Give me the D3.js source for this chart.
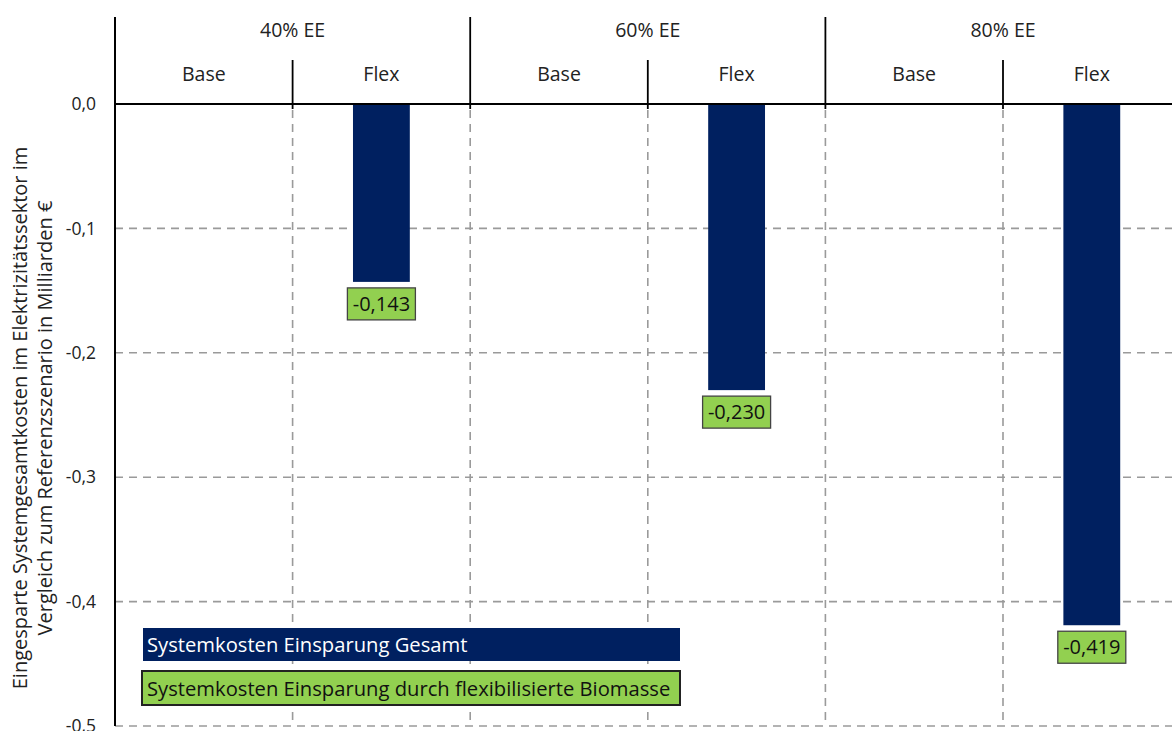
<!DOCTYPE html>
<html>
<head>
<meta charset="utf-8">
<script src="https://cdn.jsdelivr.net/npm/d3@7"></script>
<style>
  html, body { margin: 0; padding: 0; background: #fff; }
  svg { display: block; font-family: "Open Sans", Lato, sans-serif; }
</style>
</head>
<body>
<svg id="chart" width="1172" height="731"></svg>
<script>
// Scenario groups and variants
const groups = ["40% EE", "60% EE", "80% EE"];
const variants = ["Base", "Flex"];
// Savings in billion € per scenario/variant (null = no bar)
const values40 = [null, -0.143];
const values60 = [null, -0.230];
const values80 = [null, -0.419];
const yTicks = [0, -0.1, -0.2, -0.3, -0.4, -0.5];
const legendLabels = ["Systemkosten Einsparung Gesamt", "Systemkosten Einsparung durch flexibilisierte Biomasse"];

const navy = "#002060";
const green = "#92D050";

const rows = [];
[values40, values60, values80].forEach((vals, gi) => {
  vals.forEach((v, vi) => rows.push({ group: groups[gi], variant: variants[vi], key: groups[gi] + "|" + variants[vi], value: v }));
});

const svg = d3.select("#chart");
const plotL = 115, plotR = 1180.6, plotT = 104, plotB = 726;

const x = d3.scaleBand().domain(rows.map(d => d.key)).range([plotL, plotR]);
const y = d3.scaleLinear().domain([0, -0.5]).range([plotT, plotB]);
const fmt = v => d3.format(".1f")(v).replace(".", ",").replace("−", "-");
const fmt3 = v => d3.format(".3f")(v).replace(".", ",").replace("−", "-");

// Horizontal dashed gridlines
svg.append("g").selectAll("line").data(yTicks.slice(1)).join("line")
  .attr("x1", plotL).attr("x2", 1172)
  .attr("y1", d => y(d)).attr("y2", d => y(d))
  .attr("stroke", "#9a9a9a").attr("stroke-width", 1.6).attr("stroke-dasharray", "8,6");

// Vertical dashed gridlines at category boundaries
const bounds = rows.slice(1).map(d => x(d.key));
svg.append("g").selectAll("line").data(bounds).join("line")
  .attr("x1", d => d).attr("x2", d => d)
  .attr("y1", plotT + 6).attr("y2", plotB)
  .attr("stroke", "#9a9a9a").attr("stroke-width", 1.6).attr("stroke-dasharray", "8,6");

// Bars
svg.append("g").selectAll("rect").data(rows.filter(d => d.value !== null)).join("rect")
  .attr("x", d => x(d.key) + x.bandwidth() * 0.34)
  .attr("width", x.bandwidth() * 0.32)
  .attr("y", y(0))
  .attr("height", d => y(d.value) - y(0))
  .attr("fill", navy);

// Value labels
const lab = svg.append("g").selectAll("g").data(rows.filter(d => d.value !== null)).join("g")
  .attr("transform", d => `translate(${x(d.key) + x.bandwidth() / 2},${y(d.value) + 22})`);
lab.append("rect").attr("x", -34).attr("y", -16).attr("width", 68).attr("height", 32)
  .attr("fill", green).attr("stroke", "#444").attr("stroke-width", 1.3);
lab.append("text").attr("text-anchor", "middle").attr("dy", "0.36em")
  .attr("font-size", 20).attr("fill", "#111").text(d => fmt3(d.value));

// Y axis
const yAxis = d3.axisLeft(y).tickValues(yTicks).tickFormat(fmt).tickSize(0).tickPadding(19);
const ya = svg.append("g").attr("transform", `translate(${plotL},0)`).call(yAxis);
ya.select(".domain").remove();
ya.selectAll("text").attr("font-size", 17.5).attr("fill", "#222").attr("font-family", "'Open Sans', sans-serif");
svg.append("line").attr("x1", plotL).attr("x2", plotL).attr("y1", 17).attr("y2", plotB)
  .attr("stroke", "#000").attr("stroke-width", 2);

// Zero line
svg.append("line").attr("x1", plotL).attr("x2", 1172).attr("y1", y(0)).attr("y2", y(0))
  .attr("stroke", "#000").attr("stroke-width", 1.8);

// Header separators: group boundaries (tall) and variant boundaries (short)
rows.forEach((d, i) => {
  if (i === 0) return;
  const gx = x(d.key);
  const isGroup = d.variant === variants[0];
  svg.append("line").attr("x1", gx).attr("x2", gx)
    .attr("y1", isGroup ? 17 : 60).attr("y2", plotT + 5)
    .attr("stroke", "#000").attr("stroke-width", 1.8);
});

// Header labels
const groupW = x.bandwidth() * variants.length;
svg.append("g").selectAll("text").data(groups).join("text")
  .attr("x", (d, i) => plotL + groupW * i + groupW / 2)
  .attr("y", 30).attr("dy", "0.35em").attr("text-anchor", "middle")
  .attr("font-size", 19.5).attr("fill", "#222").text(d => d);
svg.append("g").selectAll("text").data(rows).join("text")
  .attr("x", d => x(d.key) + x.bandwidth() / 2)
  .attr("y", 74).attr("dy", "0.35em").attr("text-anchor", "middle")
  .attr("font-size", 19.5).attr("fill", "#222").text(d => d.variant);

// Y axis title
const yt = svg.append("text").attr("transform", "translate(0,418) rotate(-90)")
  .attr("text-anchor", "middle").attr("font-size", 20).attr("fill", "#222");
yt.append("tspan").attr("x", 0).attr("y", 27).text("Eingesparte Systemgesamtkosten im Elektrizitätssektor im");
yt.append("tspan").attr("x", 0).attr("y", 52).text("Vergleich zum Referenzszenario in Milliarden €");

// Legend
const lg = svg.append("g");
lg.append("rect").attr("x", 143).attr("y", 628).attr("width", 537).attr("height", 33).attr("fill", navy);
lg.append("text").attr("x", 147).attr("y", 645).attr("dy", "0.35em").attr("font-size", 20.2)
  .attr("fill", "#fff").text(legendLabels[0]);
lg.append("rect").attr("x", 142).attr("y", 671).attr("width", 538).attr("height", 34)
  .attr("fill", green).attr("stroke", "#222").attr("stroke-width", 2);
lg.append("text").attr("x", 147).attr("y", 689).attr("dy", "0.35em").attr("font-size", 20.2)
  .attr("fill", "#111").text(legendLabels[1]);
</script>
</body>
</html>
